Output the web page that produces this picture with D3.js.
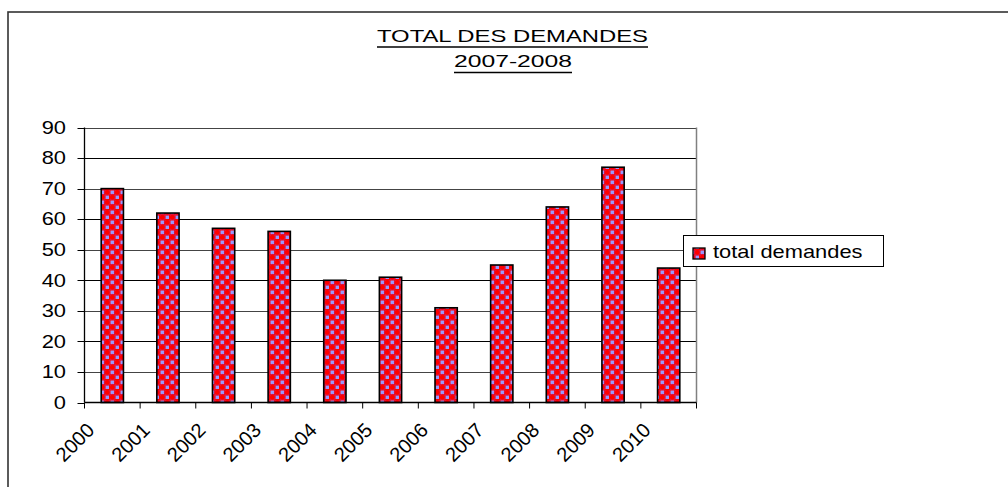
<!DOCTYPE html>
<html>
<head>
<meta charset="utf-8">
<script src="https://cdn.jsdelivr.net/npm/d3@7"></script>
<style>
  body { margin: 0; background: #fff; }
  svg { display: block; font-family: "Liberation Sans", Arial, sans-serif; }
</style>
</head>
<body>
<div id="frame"></div>
<script>
'use strict'

// data
var years = ["2000", "2001", "2002", "2003", "2004", "2005", "2006", "2007", "2008", "2009", "2010"]
var totalDemandes = [70, 62, 57, 56, 40, 41, 31, 45, 64, 77, 44]
var yTicks = [0, 10, 20, 30, 40, 50, 60, 70, 80, 90]
var titleLines = ["TOTAL DES DEMANDES", "2007-2008"]
var seriesName = "total demandes"

var W = 1008, H = 487
var plot = { left: 84.5, right: 696.5, top: 127.5, bottom: 402.5 }

var svg = d3.select("#frame").append("svg")
  .attr("width", W)
  .attr("height", H)

var defs = svg.append("defs")

// excel-ish red/blue "sphere" fill
var pat = defs.append("pattern")
  .attr("id", "balls")
  .attr("patternUnits", "userSpaceOnUse")
  .attr("width", 10)
  .attr("height", 10)
pat.append("rect").attr("width", 10).attr("height", 10).attr("fill", "#ff0000")
pat.append("rect").attr("x", 0.5).attr("y", 0.5).attr("width", 3.5).attr("height", 3.5).attr("fill", "#9999ff")
pat.append("rect").attr("x", 5.5).attr("y", 5.5).attr("width", 3.5).attr("height", 3.5).attr("fill", "#9999ff")
pat.append("circle").attr("cx", 7.2).attr("cy", 2.3).attr("r", 2.9)
  .attr("fill", "none").attr("stroke", "#c8206a").attr("stroke-width", 0.7)
pat.append("circle").attr("cx", 2.3).attr("cy", 7.2).attr("r", 2.9)
  .attr("fill", "none").attr("stroke", "#c8206a").attr("stroke-width", 0.7)

// outer chart frame
svg.append("rect")
  .attr("x", 8).attr("y", 12)
  .attr("width", W + 20).attr("height", H + 20)
  .attr("fill", "none")
  .attr("stroke", "#333")
  .attr("stroke-width", 1.6)

var x = d3.scaleBand()
  .domain(years)
  .range([plot.left, plot.right])
  .paddingInner(0.6)
  .paddingOuter(0.3)

var xEdge = d3.scaleLinear()
  .domain([0, years.length])
  .range([plot.left, plot.right])

var y = d3.scaleLinear()
  .domain([0, 90])
  .range([plot.bottom, plot.top])

// gridlines
svg.append("g").selectAll("line")
  .data(yTicks.slice(1))
  .enter().append("line")
  .attr("x1", plot.left).attr("x2", plot.right)
  .attr("y1", d => Math.round(y(d)) + 0.5)
  .attr("y2", d => Math.round(y(d)) + 0.5)
  .attr("stroke", (d, i) => i % 2 ? "#000" : "#444")
  .attr("stroke-width", 1)

// plot area right border
svg.append("line")
  .attr("x1", plot.right).attr("x2", plot.right)
  .attr("y1", plot.top).attr("y2", plot.bottom)
  .attr("stroke", "#808080")
  .attr("stroke-width", 1.5)

// bars
svg.append("g").selectAll("rect")
  .data(totalDemandes)
  .enter().append("rect")
  .attr("x", (d, i) => x(years[i]))
  .attr("y", d => y(d))
  .attr("width", x.bandwidth())
  .attr("height", d => y(0) - y(d))
  .attr("fill", "url(#balls)")
  .attr("stroke", "#000")
  .attr("stroke-width", 1.6)

// y axis
var yAxis = svg.append("g")
yAxis.append("line")
  .attr("x1", plot.left).attr("x2", plot.left)
  .attr("y1", plot.top).attr("y2", plot.bottom)
  .attr("stroke", "#000").attr("stroke-width", 1.3)
yAxis.selectAll("line.tick")
  .data(yTicks)
  .enter().append("line")
  .attr("class", "tick")
  .attr("x1", plot.left - 7).attr("x2", plot.left)
  .attr("y1", d => Math.round(y(d)) + 0.5)
  .attr("y2", d => Math.round(y(d)) + 0.5)
  .attr("stroke", "#000")
yAxis.selectAll("text")
  .data(yTicks)
  .enter().append("text")
  .attr("transform", d => "translate(66," + (y(d) + 6.3) + ") scale(1.25,1)")
  .attr("text-anchor", "end")
  .style("font-size", "17.5px")
  .attr("fill", "#000")
  .text(d => d)

// x axis
var xAxis = svg.append("g")
xAxis.append("line")
  .attr("x1", plot.left).attr("x2", plot.right)
  .attr("y1", plot.bottom).attr("y2", plot.bottom)
  .attr("stroke", "#000").attr("stroke-width", 1.3)
xAxis.selectAll("line.tick")
  .data(d3.range(years.length + 1))
  .enter().append("line")
  .attr("class", "tick")
  .attr("x1", d => xEdge(d)).attr("x2", d => xEdge(d))
  .attr("y1", plot.bottom).attr("y2", plot.bottom + 6)
  .attr("stroke", "#000")
xAxis.selectAll("text")
  .data(years)
  .enter().append("text")
  .attr("transform", (d, i) => "translate(" + (xEdge(i) + 11) + "," + (plot.bottom + 29) + ") rotate(-45)")
  .attr("text-anchor", "end")
  .style("font-size", "20px")
  .attr("fill", "#000")
  .text(d => d)

// title, stretched wide like the original
var titleBoxes = [
  { x1: 377, x2: 648, base: 42, under: 47 },
  { x1: 454, x2: 572, base: 67, under: 72.5 }
]
titleLines.forEach(function(t, i) {
  var b = titleBoxes[i]
  svg.append("text")
    .attr("x", b.x1)
    .attr("y", b.base)
    .attr("textLength", b.x2 - b.x1)
    .attr("lengthAdjust", "spacingAndGlyphs")
    .style("font-size", "17px")
    .attr("fill", "#000")
    .text(t)
  svg.append("line")
    .attr("x1", b.x1).attr("x2", b.x2)
    .attr("y1", b.under).attr("y2", b.under)
    .attr("stroke", "#000")
    .attr("stroke-width", 1.5)
})

// legend
var lg = svg.append("g")
lg.append("rect")
  .attr("x", 683.5).attr("y", 235.5)
  .attr("width", 200).attr("height", 31)
  .attr("fill", "#fff")
  .attr("stroke", "#000")
  .attr("stroke-width", 1)
lg.append("rect")
  .attr("x", 693).attr("y", 248)
  .attr("width", 12).attr("height", 11)
  .attr("fill", "url(#balls)")
  .attr("stroke", "#000")
  .attr("stroke-width", 1.3)
lg.append("text")
  .attr("transform", "translate(713,258) scale(1.25,1)")
  .style("font-size", "17.5px")
  .attr("fill", "#000")
  .text(seriesName)
</script>
</body>
</html>
